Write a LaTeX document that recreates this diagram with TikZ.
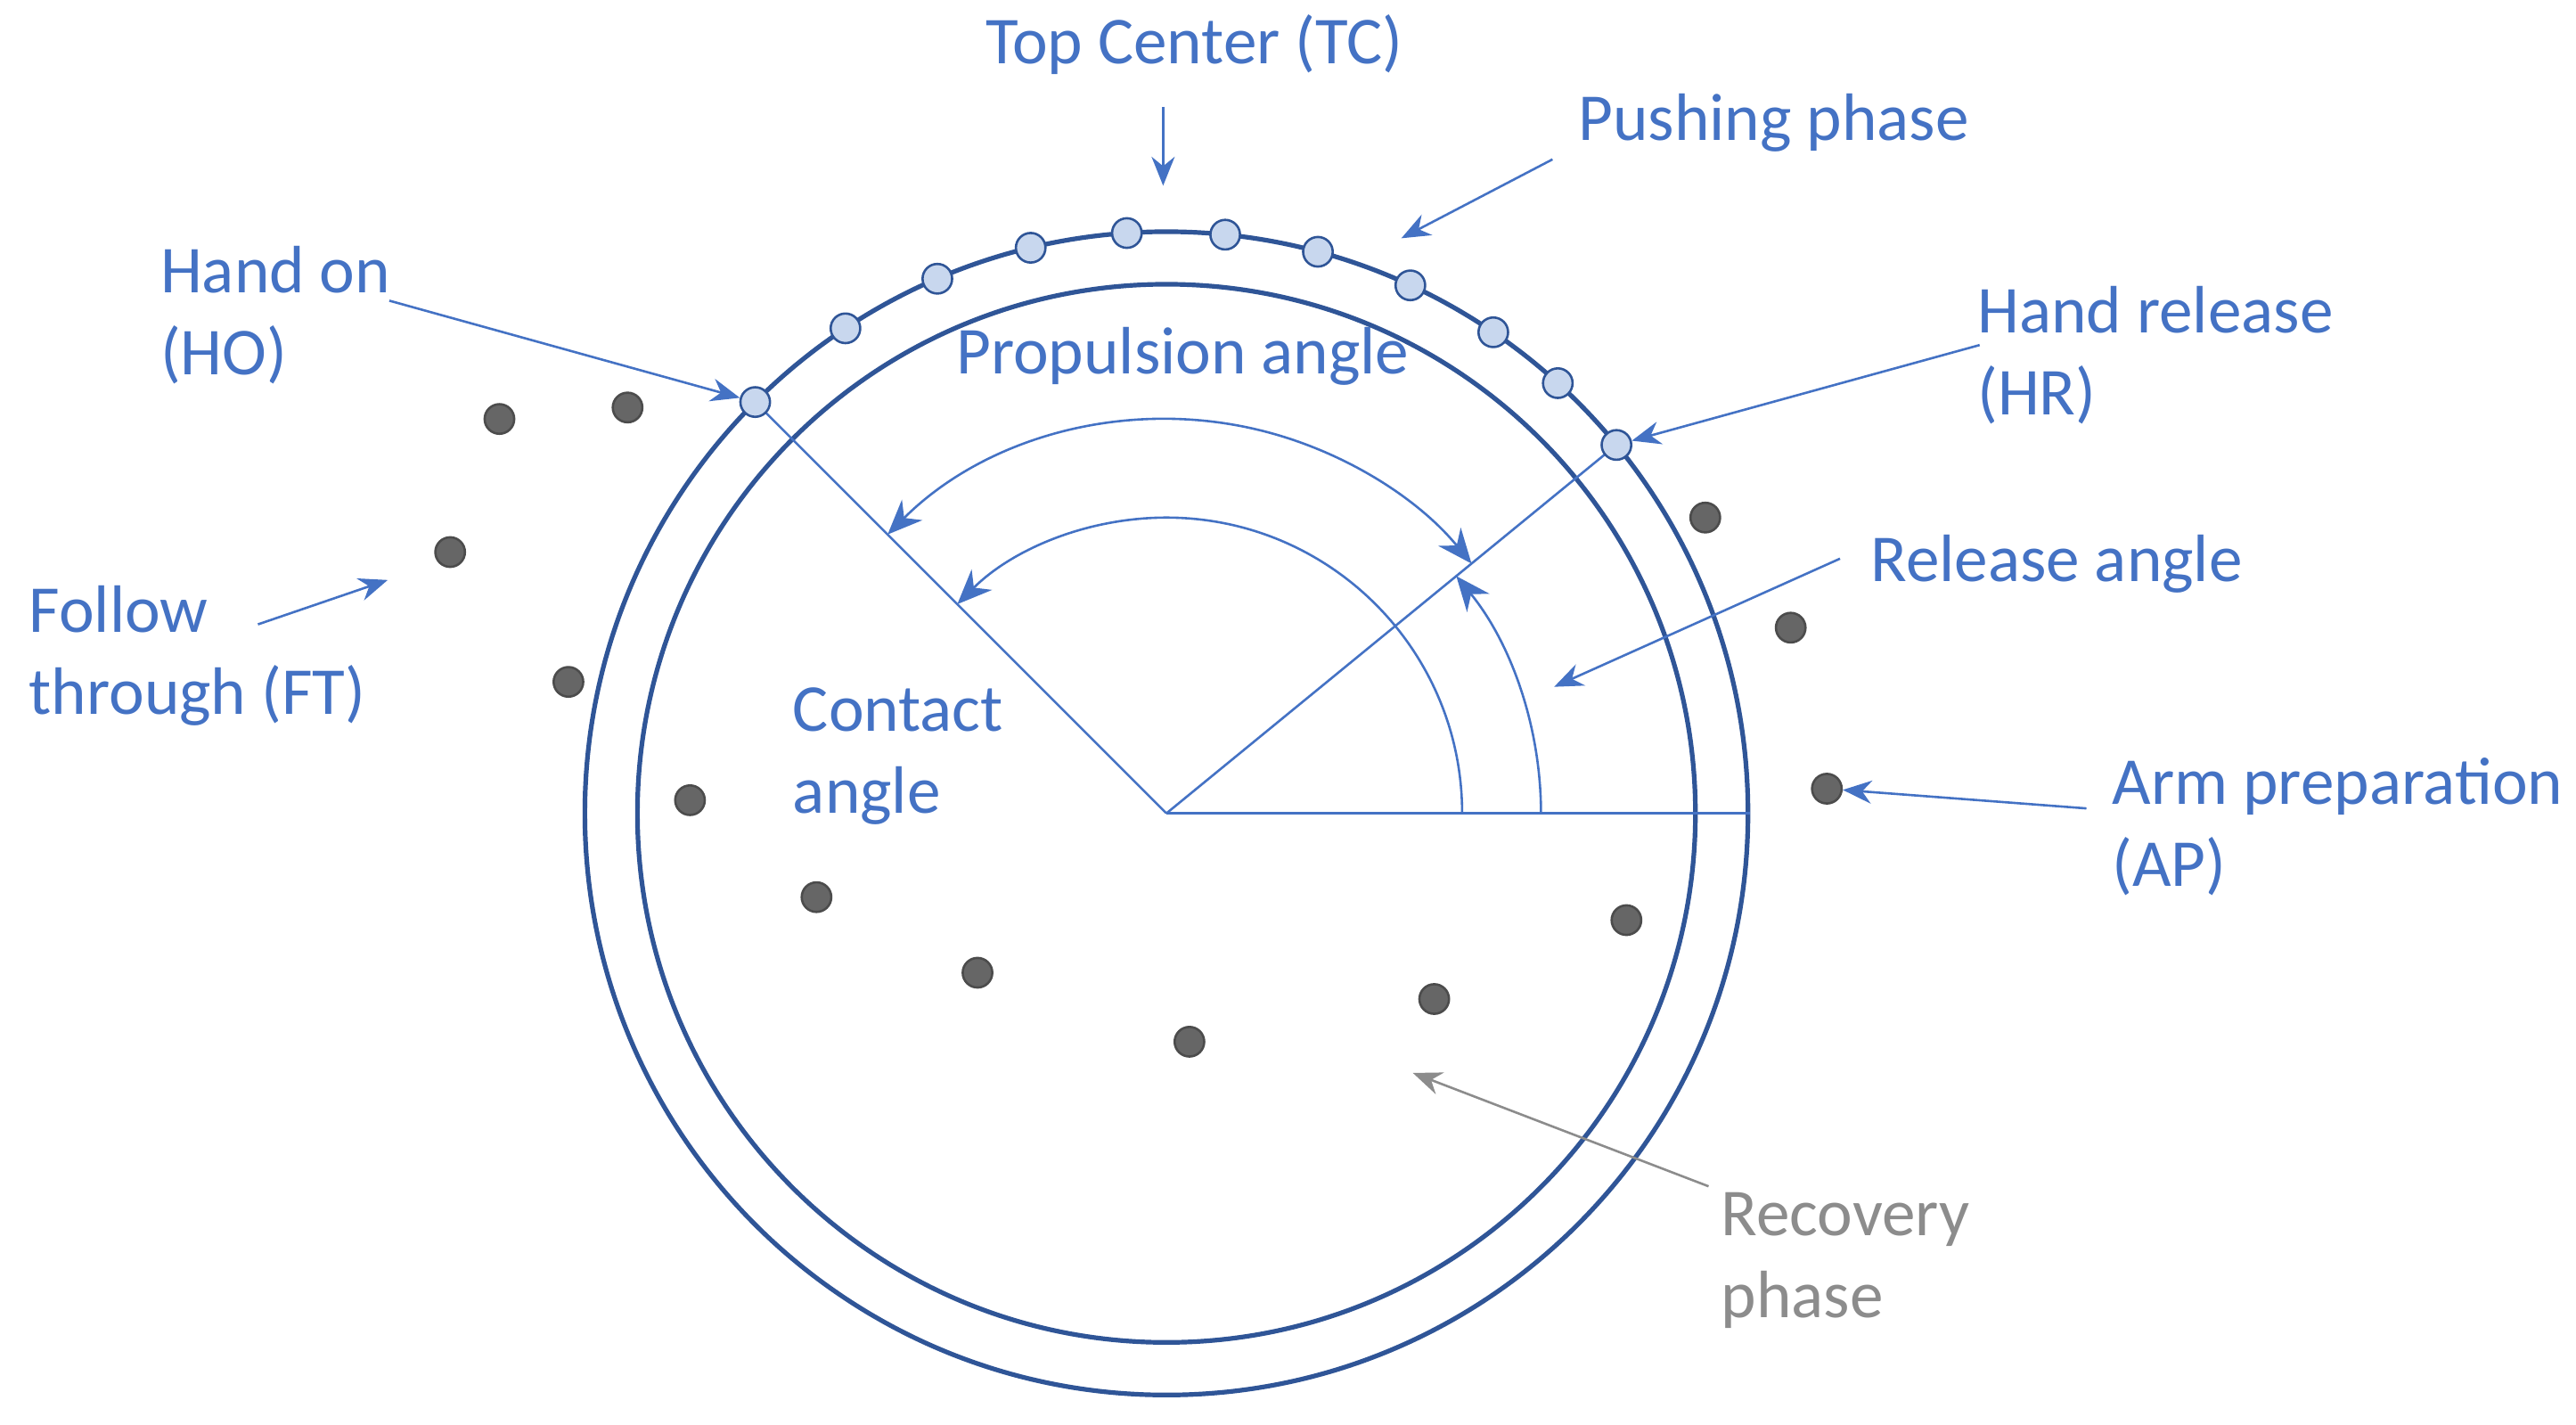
\documentclass[tikz,border=0pt]{standalone}
\usepackage{fontspec}
\setmainfont{Carlito}
\usetikzlibrary{arrows.meta}
\definecolor{lblue}{RGB}{68,114,196}
\definecolor{dblue}{RGB}{47,85,151}
\definecolor{dotfill}{RGB}{200,215,238}
\tikzset{
	label/.style = {text = lblue, inner sep = 0pt, align = left, font = \fontsize{11.6}{14.2}\selectfont},
	pointer/.style = {lblue, thin, -{Stealth[length = 5pt, width = 4pt]}},
	handdot/.style = {circle, draw = dblue, fill = dotfill, minimum size = 0.18cm, inner sep = 0pt},
	armdot/.style = {circle, draw = black!70, fill = black!60, minimum size = 0.18cm, inner sep = 0pt}
}
\begin{document}
\begin{tikzpicture}[x = 0.01cm, y = -0.01cm]
	\useasboundingbox (0, 0) rectangle (1568, 867);
	
	\coordinate (centre) at (710, 495);
	\draw[dblue, thick] (centre) circle (354);
	\draw[dblue, thick] (centre) circle (322);
	
	\draw[lblue] (centre) -- ++(-135:354) coordinate (ho);
	\draw[lblue] (centre) -- ++(-39.3:354) coordinate (hr);
	\draw[lblue] (centre) -- (1065, 495);
	
	% angle arcs
	\draw[lblue, {Stealth[length = 6pt, width = 5pt]}-{Stealth[length = 6pt, width = 5pt]}] ([shift = {(-135:240)}] centre) arc[start angle = -135, end angle = -39.3, radius = 240];
	\draw[lblue, -{Stealth[length = 6pt, width = 5pt]}] ([shift = {(0:180)}] centre) arc[start angle = 0, end angle = -135, radius = 180];
	\draw[lblue, -{Stealth[length = 6pt, width = 5pt]}] ([shift = {(0:228)}] centre) arc[start angle = 0, end angle = -39.3, radius = 228];
	
	% hand dots on the rim
	\foreach \a [count = \i] in {135, 123.5, 113.2, 103.5, 93.9, 84.2, 74.9, 65.2, 55.8, 47.7, 39.3}
	\node[handdot] (hand\i) at ([shift = {(-\a:354)}] centre) {};
	
	% arm dots
	\foreach \p [count = \i] in {(304, 255), (382, 248), (274, 336), (346, 415), (420, 487), (497, 546), (595, 592), (724, 634), (873, 608), (990, 560), (1112, 480), (1090, 382), (1038, 315)}
	\node[armdot] (arm\i) at \p {};
	
	% labels
	\node[label, anchor = center] (tc) at (727, 27) {Top Center (TC)};
	\node[label, anchor = west] (push) at (960, 75) {Pushing phase};
	\node[label, anchor = west] (handon) at (97, 192) {Hand on\\(HO)};
	\node[label, anchor = center] (prop) at (720, 217) {Propulsion angle};
	\node[label, anchor = west] (handrel) at (1203, 216) {Hand release\\(HR)};
	\node[label, anchor = west] (follow) at (17, 399) {Follow\\through (FT)};
	\node[label, anchor = west] (release) at (1138, 343) {Release angle};
	\node[label, anchor = west] (contact) at (482, 460) {Contact\\angle};
	\node[label, anchor = west] (armprep) at (1285, 503) {Arm preparation\\(AP)};
	\node[label, anchor = west, text = black!45] (recovery) at (1047, 767) {Recovery\\phase};
	
	% pointers
	\coordinate (tcfrom) at (708, 65);
	\coordinate (tcto) at (708, 113);
	\draw[pointer] (tcfrom) -- (tcto);
	\coordinate (pushfrom) at (945, 97);
	\coordinate (pushto) at (853, 145);
	\draw[pointer] (pushfrom) -- (pushto);
	\coordinate (hofrom) at (237, 183);
	\draw[pointer] (hofrom) -- (hand1);
	\coordinate (hrfrom) at (1205, 210);
	\draw[pointer] (hrfrom) -- (hand11);
	\coordinate (ftfrom) at (157, 380);
	\coordinate (ftto) at (236, 353);
	\draw[pointer] (ftfrom) -- (ftto);
	\coordinate (relfrom) at (1120, 340);
	\coordinate (relto) at (946, 418);
	\draw[pointer] (relfrom) -- (relto);
	\coordinate (apfrom) at (1270, 492);
	\draw[pointer] (apfrom) -- (arm11);
	\coordinate (recfrom) at (1040, 722);
	\coordinate (recto) at (860, 653);
	\draw[pointer, black!45] (recfrom) -- (recto);
\end{tikzpicture}
\end{document}
